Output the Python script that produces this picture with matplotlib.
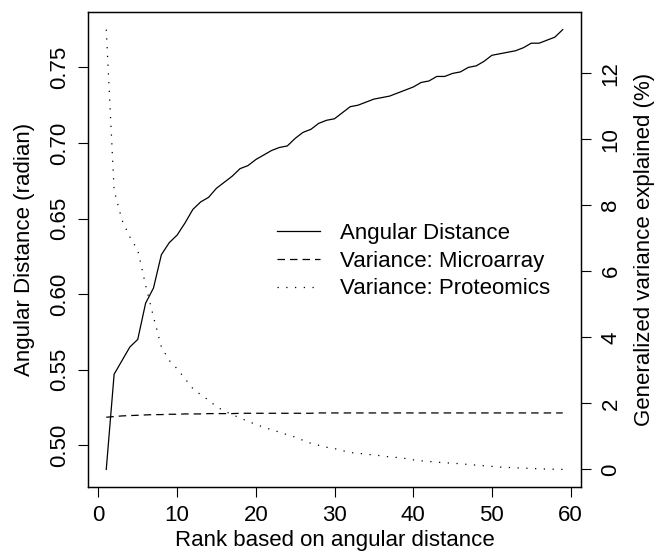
import matplotlib
matplotlib.use("Agg")
import matplotlib.pyplot as plt

# rank 1..59
rank = list(range(1, 60))

# angular distance (radian), left axis
angular = [0.484, 0.547, 0.556, 0.565, 0.570, 0.594, 0.604, 0.626, 0.634, 0.639,
           0.647, 0.656, 0.661, 0.664, 0.670, 0.674, 0.678, 0.683, 0.685, 0.689,
           0.692, 0.695, 0.697, 0.698, 0.703, 0.707, 0.709, 0.713, 0.715, 0.716,
           0.720, 0.724, 0.725, 0.727, 0.729, 0.730, 0.731, 0.733, 0.735, 0.737,
           0.740, 0.741, 0.744, 0.744, 0.746, 0.747, 0.750, 0.751, 0.754, 0.758,
           0.759, 0.760, 0.761, 0.763, 0.766, 0.766, 0.768, 0.770, 0.775]

# generalized variance explained (%), right axis
var_micro = [1.58, 1.60, 1.62, 1.63, 1.64, 1.65, 1.66, 1.66, 1.67, 1.67,
             1.68, 1.68, 1.68, 1.69, 1.69, 1.69, 1.69, 1.70, 1.70, 1.70,
             1.70, 1.70, 1.70, 1.70, 1.70, 1.70, 1.70, 1.71, 1.71, 1.71,
             1.71, 1.71, 1.71, 1.71, 1.71, 1.71, 1.71, 1.71, 1.71, 1.71,
             1.71, 1.71, 1.71, 1.71, 1.71, 1.71, 1.71, 1.71, 1.71, 1.71,
             1.71, 1.71, 1.71, 1.71, 1.71, 1.71, 1.71, 1.71, 1.71]

var_prot = [13.32, 8.45, 7.55, 7.04, 6.64, 5.58, 4.62, 3.71, 3.30, 3.05,
            2.75, 2.45, 2.26, 2.10, 1.90, 1.77, 1.66, 1.56, 1.46, 1.36,
            1.28, 1.20, 1.13, 1.05, 0.98, 0.88, 0.79, 0.73, 0.67, 0.63,
            0.57, 0.51, 0.49, 0.46, 0.44, 0.41, 0.38, 0.36, 0.33, 0.29,
            0.26, 0.24, 0.22, 0.20, 0.19, 0.17, 0.15, 0.13, 0.11, 0.09,
            0.07, 0.06, 0.05, 0.04, 0.03, 0.02, 0.01, 0.005, 0.0]

legend_labels = ["Angular Distance", "Variance: Microarray", "Variance: Proteomics"]

plt.rcParams['font.family'] = ['Liberation Sans', 'DejaVu Sans']
plt.rcParams['font.size'] = 16

fig = plt.figure(figsize=(6.66, 5.6), dpi=100)
ax = fig.add_axes([88 / 666, 73 / 560, 493 / 666, 475 / 560])
ax2 = ax.twinx()

lw = 0.9
l1, = ax.plot(rank, angular, color='black', lw=lw)
l2, = ax2.plot(rank, var_micro, color='black', lw=lw, dashes=(6, 4))
l3, = ax2.plot(rank, var_prot, color='black', lw=lw, dashes=(1, 6))

# R style 4% padding
def pad(lo, hi):
    d = (hi - lo) * 0.04
    return lo - d, hi + d

ax.set_xlim(*pad(1, 59))
ax.set_ylim(*pad(min(angular), max(angular)))
ax2.set_ylim(*pad(0, max(var_prot)))

ax.set_xticks([0, 10, 20, 30, 40, 50, 60])
ax.set_yticks([0.50, 0.55, 0.60, 0.65, 0.70, 0.75])
ax.set_yticklabels(["0.50", "0.55", "0.60", "0.65", "0.70", "0.75"],
                   rotation=90, va='center')
ax2.set_yticks([0, 2, 4, 6, 8, 10, 12])
ax2.set_yticklabels(["0", "2", "4", "6", "8", "10", "12"], rotation=90, va='center')

for a in (ax, ax2):
    a.tick_params(direction='out', length=7, width=0.8, pad=6, colors='black')
    for s in a.spines.values():
        s.set_linewidth(0.9)
ax2.tick_params(axis='y', pad=7)

ax.set_xlabel("Rank based on angular distance", labelpad=3)
ax.set_ylabel("Angular Distance (radian)", labelpad=10)
ax2.set_ylabel("Generalized variance explained (%)", labelpad=9)

ax2.legend([l1, l2, l3], legend_labels, frameon=False, loc='upper left',
           bbox_to_anchor=(277 / 666, 1 - 223 / 560), bbox_transform=fig.transFigure,
           borderpad=0, borderaxespad=0, handlelength=1.95, handletextpad=0.9,
           labelspacing=0.3)

fig.savefig("out.png", dpi=100)
